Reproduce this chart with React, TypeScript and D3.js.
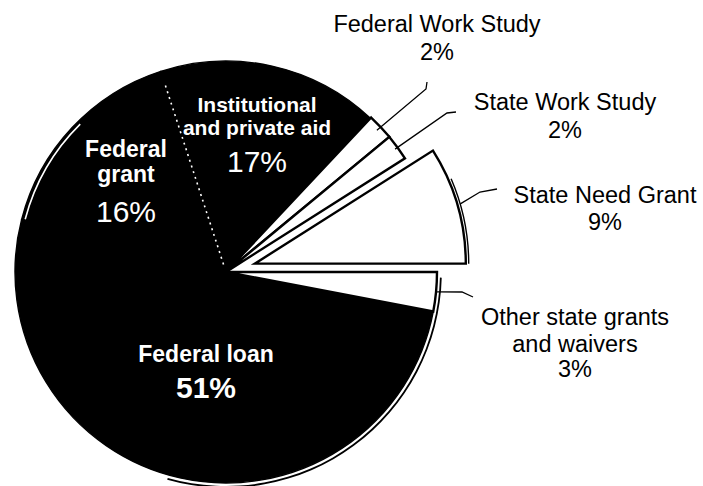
import React from "react";
import * as d3 from "d3";

// ---- data ----
const categories = [
  "Federal Work Study",
  "State Work Study",
  "State Need Grant",
  "Other state grants and waivers",
  "Federal loan",
  "Federal grant",
  "Institutional and private aid",
];
const values = [2, 2, 9, 3, 51, 16, 17];
const labelLines = [
  ["Federal Work Study"],
  ["State Work Study"],
  ["State Need Grant"],
  ["Other state grants", "and waivers"],
  ["Federal loan"],
  ["Federal", "grant"],
  ["Institutional", "and private aid"],
];

// ---- layout / style ----
const W = 703;
const H = 486;
const CX = 226;
const CY = 272;
const R = 211;
const DEG = Math.PI / 180;
const START = 43.2 * DEG;
const FONT = "'Liberation Sans', Arial, Helvetica, sans-serif";

const solidSlices = new Set(["Federal loan", "Federal grant", "Institutional and private aid"]);
const explodeBy: Record<string, number> = {
  "State Need Grant": 30,
  "Federal Work Study": 1,
  "State Work Study": 1,
};

type LabelStyle = {
  x: number;
  y: number;
  lh: number;
  size: number;
  weight: string;
  pctY: number;
  pctSize: number;
  pctWeight: string;
  color: string;
  leader?: { r: number; pts: [number, number][] };
};

const labelLayout: Record<string, LabelStyle> = {
  "Federal Work Study": {
    x: 437, y: 32, lh: 28, size: 23.5, weight: "normal", pctY: 60, pctSize: 23.5, pctWeight: "normal", color: "#000",
    leader: { r: 206, pts: [[426, 89], [427, 82]] },
  },
  "State Work Study": {
    x: 565, y: 110, lh: 28, size: 23.5, weight: "normal", pctY: 138, pctSize: 23.5, pctWeight: "normal", color: "#000",
    leader: { r: 208, pts: [[447, 113], [456, 112]] },
  },
  "State Need Grant": {
    x: 605, y: 203, lh: 27, size: 23.5, weight: "normal", pctY: 230, pctSize: 23.5, pctWeight: "normal", color: "#000",
    leader: { r: 214, pts: [[480, 192], [497, 189]] },
  },
  "Other state grants and waivers": {
    x: 575, y: 325, lh: 27, size: 23.5, weight: "normal", pctY: 377, pctSize: 23.5, pctWeight: "normal", color: "#000",
    leader: { r: 212, pts: [[462, 292], [473, 297]] },
  },
  "Federal loan": {
    x: 206, y: 362, lh: 26, size: 23, weight: "bold", pctY: 398, pctSize: 30, pctWeight: "bold", color: "#fff",
  },
  "Federal grant": {
    x: 126, y: 157, lh: 25, size: 23, weight: "bold", pctY: 222, pctSize: 30, pctWeight: "normal", color: "#fff",
  },
  "Institutional and private aid": {
    x: 257, y: 112, lh: 23, size: 21, weight: "bold", pctY: 172, pctSize: 30, pctWeight: "normal", color: "#fff",
  },
};

const polar = (a: number, r: number): [number, number] => [Math.sin(a) * r, -Math.cos(a) * r];

export default function App() {
  const pie = d3
    .pie<number>()
    .sort(null)
    .value((d) => d)
    .startAngle(START)
    .endAngle(START + 2 * Math.PI);
  const arcs = pie(values);
  const arcGen = d3.arc<d3.PieArcDatum<number>>().innerRadius(0).outerRadius(R);
  const ring = d3.arc<any>();
  const line = d3.line();

  const offsetOf = (i: number): [number, number] => {
    const e = explodeBy[categories[i]] || 0;
    const a = arcs[i];
    return polar((a.startAngle + a.endAngle) / 2, e);
  };

  const idx = (name: string) => categories.indexOf(name);
  const iOther = idx("Other state grants and waivers");
  const iLoan = idx("Federal loan");
  const iGrant = idx("Federal grant");
  const iInst = idx("Institutional and private aid");
  const iNeed = idx("State Need Grant");

  const order = arcs.map((_, i) => i).sort((a, b) => {
    const sa = solidSlices.has(categories[a]) ? 0 : 1;
    const sb = solidSlices.has(categories[b]) ? 0 : 1;
    return sa - sb;
  });

  const needOff = offsetOf(iNeed);
  const dotA = arcs[iInst].startAngle;
  const [d1x, d1y] = polar(dotA, 8);
  const [d2x, d2y] = polar(dotA, 199);

  return (
    <svg width={W} height={H} style={{ position: "absolute", left: 0, top: 0, background: "#fff" }}>
      <rect x={0} y={0} width={W} height={H} fill="#fff" />
      <g transform={`translate(${CX},${CY})`}>
        {order.map((i) => {
          const solid = solidSlices.has(categories[i]);
          const [ox, oy] = offsetOf(i);
          return (
            <path
              key={categories[i]}
              d={arcGen(arcs[i]) || ""}
              transform={`translate(${ox},${oy})`}
              fill={solid ? "#000" : "#fff"}
              stroke="#000"
              strokeWidth={solid ? 1.4 : 2.4}
              strokeLinejoin="miter"
            />
          );
        })}
        {/* outer shadow edge along the lower right */}
        <path
          d={
            ring({
              innerRadius: R + 3,
              outerRadius: R + 4.8,
              startAngle: arcs[iOther].startAngle + 1.5 * DEG,
              endAngle: arcs[iLoan].startAngle + 95 * DEG,
            }) || ""
          }
          fill="#000"
        />
        {/* shadow edge on State Need Grant */}
        <path
          transform={`translate(${needOff[0]},${needOff[1]})`}
          d={
            ring({
              innerRadius: R + 2.2,
              outerRadius: R + 3.6,
              startAngle: arcs[iNeed].startAngle + 9 * DEG,
              endAngle: arcs[iNeed].endAngle,
            }) || ""
          }
          fill="#000"
        />
        {/* light edge on Federal grant */}
        <path
          d={
            ring({
              innerRadius: R - 4.2,
              outerRadius: R - 2.6,
              startAngle: arcs[iGrant].startAngle + 0.3 * DEG,
              endAngle: arcs[iGrant].startAngle + 31 * DEG,
            }) || ""
          }
          fill="#fff"
        />
        {/* dotted boundary between Federal grant and Institutional */}
        <line x1={d1x} y1={d1y} x2={d2x} y2={d2y} stroke="#fff" strokeWidth={1.6} strokeDasharray="2 4" />
        {/* leader lines */}
        {categories.map((c, i) => {
          const L = labelLayout[c];
          if (!L.leader) return null;
          const a = arcs[i];
          const [ox, oy] = offsetOf(i);
          const [sx, sy] = polar((a.startAngle + a.endAngle) / 2, L.leader.r);
          const pts: [number, number][] = [[sx + ox, sy + oy], ...L.leader.pts.map(([x, y]) => [x - CX, y - CY] as [number, number])];
          return <path key={"ld" + c} d={line(pts) || ""} fill="none" stroke="#000" strokeWidth={1.3} />;
        })}
      </g>
      {/* labels */}
      {categories.map((c, i) => {
        const L = labelLayout[c];
        return (
          <g key={"lb" + c} fill={L.color} fontFamily={FONT} textAnchor="middle">
            {labelLines[i].map((t, k) => (
              <text key={k} x={L.x} y={L.y + k * L.lh} fontSize={L.size} fontWeight={L.weight}>
                {t}
              </text>
            ))}
            <text x={L.x} y={L.pctY} fontSize={L.pctSize} fontWeight={L.pctWeight}>
              {`${values[i]}%`}
            </text>
          </g>
        );
      })}
    </svg>
  );
}
